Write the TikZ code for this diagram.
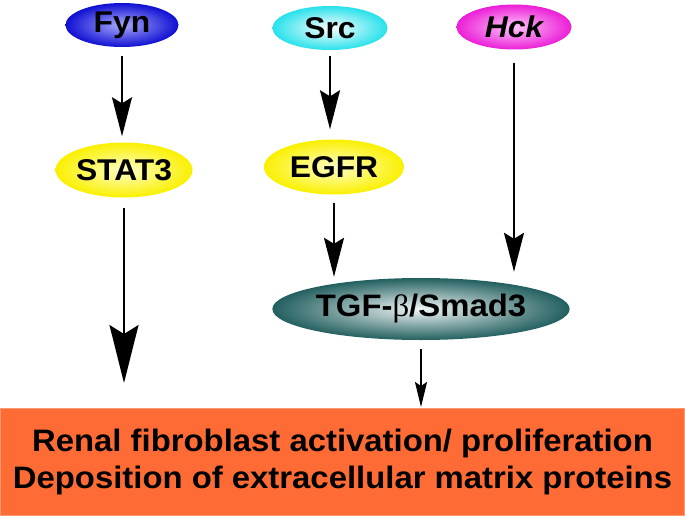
\documentclass[tikz,border=0pt]{standalone}
\usepackage{fontspec}
\setmainfont[FakeStretch=1.06]{Liberation Sans}
\newfontfamily\symfont[FakeStretch=1.06]{Liberation Serif}
\usetikzlibrary{shapes.geometric,arrows.meta}
\definecolor{boxorange}{RGB}{255,107,52}
\definecolor{fynblue}{RGB}{15,15,210}
\definecolor{fynlight}{RGB}{170,170,255}
\definecolor{srccyan}{RGB}{40,225,235}
\definecolor{hckmag}{RGB}{235,30,215}
\definecolor{hcklight}{RGB}{255,200,250}
\definecolor{ylw}{RGB}{250,240,0}
\definecolor{ylwlight}{RGB}{255,255,200}
\definecolor{teal}{RGB}{35,95,95}
\definecolor{teallight}{RGB}{240,246,246}
\tikzset{
  prot/.style={ellipse, inner sep=0pt, shading=radial, font=\bfseries\fontsize{30}{32}\selectfont},
  arr/.style={line width=2pt, -{Stealth[length=39pt,width=20pt,inset=6pt]}},
  bigarr/.style={line width=2pt, -{Stealth[length=58pt,width=29pt,inset=9pt]}},
  smallarr/.style={line width=2pt, -{Stealth[length=25pt,width=12pt,inset=4pt]}}
}
\begin{document}
\begin{tikzpicture}[x=1pt,y=-1pt]
\useasboundingbox (0,0) rectangle (685,516);
\node[prot, minimum width=113pt, minimum height=44pt, inner color=fynlight, outer color=fynblue] (fyn) at (122,25) {Fyn};
\node[prot, minimum width=115pt, minimum height=44pt, inner color=white, outer color=srccyan] (src) at (330,28) {Src};
\node[prot, minimum width=115pt, minimum height=45pt, inner color=hcklight, outer color=hckmag] (hck) at (514,27) {\itshape Hck};
\node[prot, minimum width=137pt, minimum height=55pt, inner color=ylwlight, outer color=ylw] (stat) at (124,170) {STAT3};
\node[prot, minimum width=140pt, minimum height=55pt, inner color=ylwlight, outer color=ylw] (egfr) at (334,167) {EGFR};
\node[prot, minimum width=278pt, minimum height=62pt, inner color=teallight, outer color=teal, font=\bfseries\fontsize{31}{32}\selectfont] (tgf) at (421,309) {TGF-{\symfont\mdseries β}/Smad3};
\node[rectangle, fill=boxorange, draw=boxorange!70!white, line width=1pt, minimum width=684pt, minimum height=107pt, inner sep=0pt, align=center, font=\bfseries\fontsize{31}{37}\selectfont] (box) at (342.5,462) {Renal fibroblast activation/ proliferation\\Deposition of extracellular matrix proteins};
\draw[arr, shorten <=9pt, shorten >=6pt] (fyn.south) -- (fyn.south |- stat.north);
\draw[arr, shorten <=6pt, shorten >=10pt] (src.south) -- (src.south |- egfr.north);
\draw[arr, shorten <=8pt, shorten >=1pt] (egfr.south) -- (egfr.south |- tgf.north);
\draw[arr, shorten <=13pt, shorten >=6pt] (hck.south) -- (hck.south |- tgf.north);
\draw[bigarr, shorten <=10pt, shorten >=25pt] (stat.south) -- (stat.south |- box.north);
\draw[smallarr, shorten <=9pt, shorten >=1pt] (tgf.south) -- (tgf.south |- box.north);
\end{tikzpicture}
\end{document}
